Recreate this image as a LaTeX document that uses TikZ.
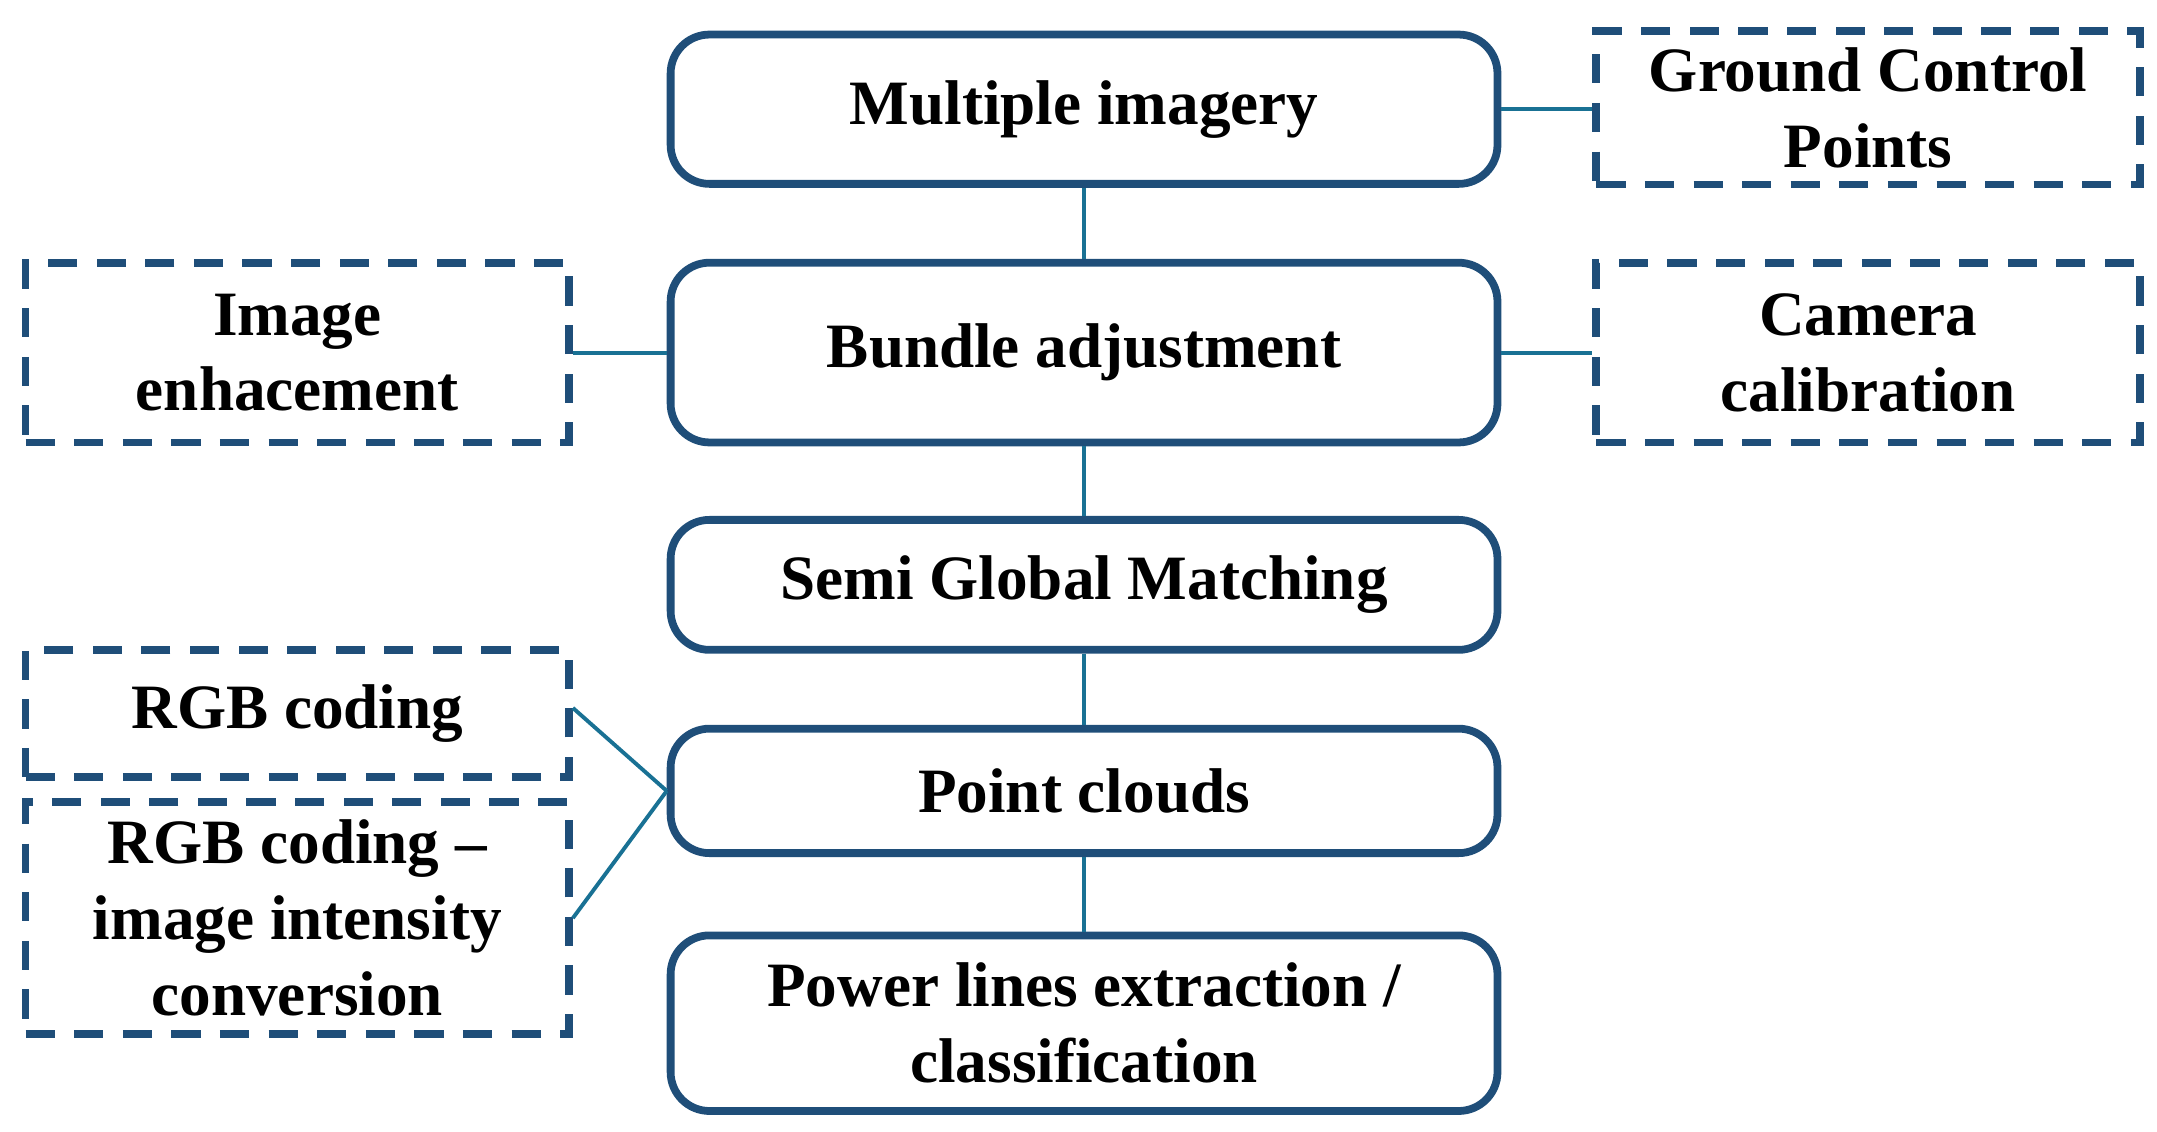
\documentclass[tikz,border=0pt]{standalone}
\usepackage{fontspec}
\setmainfont{Liberation Serif}
\definecolor{boxblue}{RGB}{31,78,121}
\tikzset{
  stage/.style={rectangle,rounded corners=8pt,draw=boxblue,line width=1.6pt,minimum width=5.98cm,align=center,font=\fontsize{13}{15.6}\selectfont\bfseries},
  extra/.style={rectangle,draw=boxblue,dashed,dash pattern=on 6pt off 4pt,line width=1.6pt,minimum width=3.93cm,align=center,font=\fontsize{13}{15.6}\selectfont\bfseries},
  link/.style={draw=boxblue!80!cyan,line width=0.8pt}
}
\begin{document}
\begin{tikzpicture}
\useasboundingbox (0,0) rectangle (15.6,-8.18);

% main chain
\node[stage,minimum height=1.08cm] (multi) at (7.84,-0.79) {Multiple imagery};
\node[stage,minimum height=1.30cm] (bundle) at (7.84,-2.55) {Bundle adjustment};
\node[stage,minimum height=0.94cm] (sgm) at (7.84,-4.23) {Semi Global Matching};
\node[stage,minimum height=0.90cm] (cloud) at (7.84,-5.72) {Point clouds};
\node[stage,minimum height=1.27cm] (power) at (7.84,-7.40) {Power lines extraction /\\classification};

% side inputs
\node[extra,minimum height=1.11cm] (gcp) at (13.51,-0.78) {Ground Control\\Points};
\node[extra,minimum height=1.30cm] (camera) at (13.51,-2.55) {Camera\\calibration};
\node[extra,minimum height=1.30cm] (enhance) at (2.15,-2.55) {Image\\enhacement};
\node[extra,minimum height=0.92cm] (rgb) at (2.15,-5.16) {RGB coding};
\node[extra,minimum height=1.68cm] (intensity) at (2.15,-6.64) {RGB coding --\\image intensity\\conversion};

% connectors
\draw[link] (multi) -- (bundle);
\draw[link] (bundle) -- (sgm);
\draw[link] (sgm) -- (cloud);
\draw[link] (cloud) -- (power);
\draw[link] (multi.east) -- (gcp.west |- multi.east);
\draw[link] (bundle.east) -- (camera.west);
\draw[link] (bundle.west) -- (enhance.east);
\draw[link] (cloud.west) -- ([yshift=0.04cm]rgb.east);
\draw[link] (cloud.west) -- (intensity.east);
\end{tikzpicture}
\end{document}
